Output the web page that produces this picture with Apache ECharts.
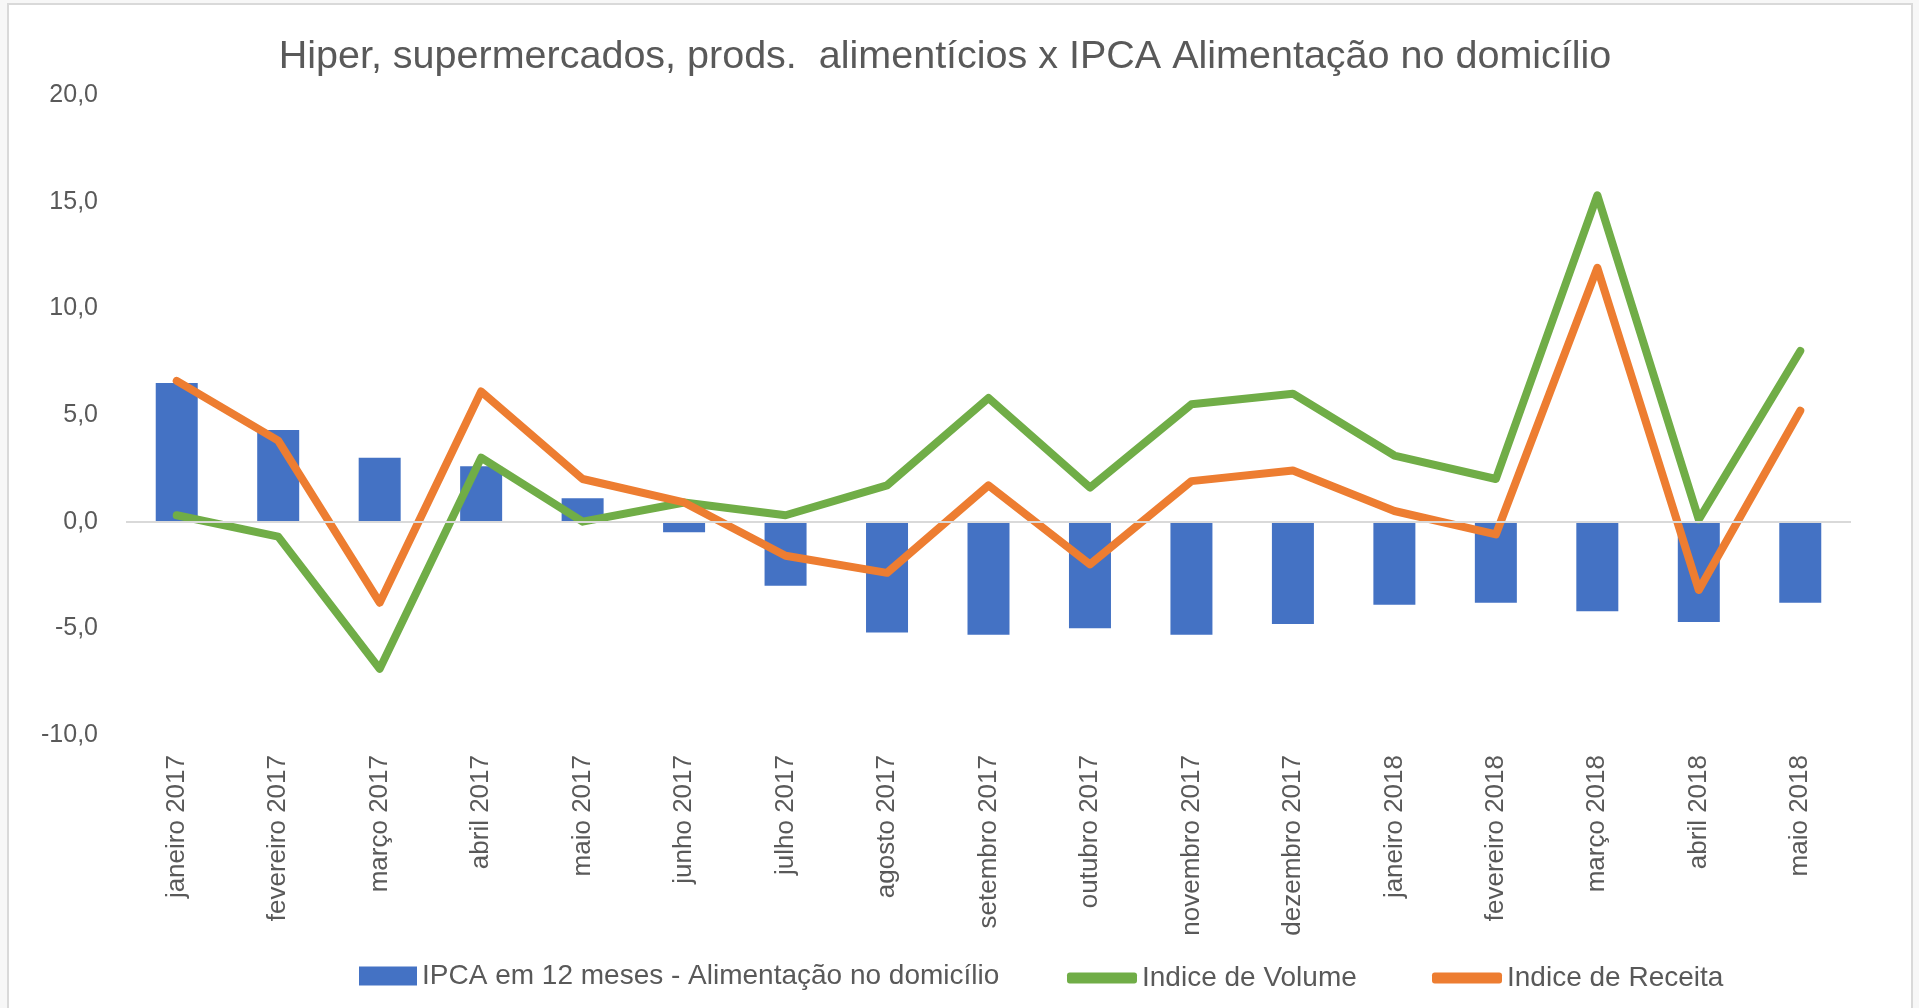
<!DOCTYPE html>
<html>
<head>
<meta charset="utf-8">
<script src="https://cdn.jsdelivr.net/npm/echarts@6/dist/echarts.min.js"></script>
<style>
  html, body { margin: 0; padding: 0; background: #f7f7f7; }
  #chart { width: 1919px; height: 1008px; }
</style>
</head>
<body>
<div id="chart"></div>
<script>
"use strict";

var months = [
  "janeiro 2017", "fevereiro 2017", "março 2017", "abril 2017", "maio 2017",
  "junho 2017", "julho 2017", "agosto 2017", "setembro 2017", "outubro 2017",
  "novembro 2017", "dezembro 2017", "janeiro 2018", "fevereiro 2018",
  "março 2018", "abril 2018", "maio 2018"
];
var ipca = [6.5, 4.3, 3.0, 2.6, 1.1, -0.5, -3.0, -5.2, -5.3, -5.0, -5.3, -4.8, -3.9, -3.8, -4.2, -4.7, -3.8];
var volume = [0.3, -0.7, -6.9, 3.0, 0.0, 0.9, 0.3, 1.7, 5.8, 1.6, 5.5, 6.0, 3.1, 2.0, 15.3, 0.1, 8.0];
var receita = [6.6, 3.8, -3.8, 6.1, 2.0, 0.9, -1.6, -2.4, 1.7, -2.0, 1.9, 2.4, 0.5, -0.6, 11.9, -3.2, 5.2];

var names = ["IPCA em 12 meses - Alimentação no domicílio", "Indice de Volume", "Indice de Receita"];
var textColor = "#595959";
var font = "'Liberation Sans', Arial, sans-serif";

var chart = echarts.init(document.getElementById("chart"));

chart.setOption({
  backgroundColor: "#f7f7f7",
  animation: false,
  graphic: [
    {
      type: "rect",
      silent: true,
      z: -10,
      shape: { x: 8, y: 4, width: 1904, height: 1030 },
      style: { fill: "#ffffff", stroke: "#d9d9d9", lineWidth: 2 },
    },
  ],
  title: {
    text: "Hiper, supermercados, prods.  alimentícios x IPCA Alimentação no domicílio",
    left: 940,
    top: 32,
    textAlign: "center",
    textStyle: { color: textColor, fontSize: 39.5, fontWeight: "normal", fontFamily: font },
  },
  legend: [
    {
      data: [names[0]],
      left: 354,
      top: 957,
      itemWidth: 58,
      itemHeight: 19,
      icon: "rect",
      textStyle: { color: textColor, fontSize: 28, fontFamily: font },
    },
    {
      data: [names[1]],
      left: 1062,
      top: 959,
      itemWidth: 70,
      itemHeight: 11,
      icon: "roundRect",
      textStyle: { color: textColor, fontSize: 28, fontFamily: font },
    },
    {
      data: [names[2]],
      left: 1427,
      top: 959,
      itemWidth: 70,
      itemHeight: 11,
      icon: "roundRect",
      textStyle: { color: textColor, fontSize: 28, fontFamily: font },
    },
  ],
  grid: { left: 126, right: 68, top: 95, height: 640 },
  xAxis: {
    type: "category",
    data: months,
    axisLine: { show: false, onZero: false },
    axisTick: { show: false },
    axisLabel: {
      rotate: 90,
      margin: 20,
      interval: 0,
      color: textColor,
      fontSize: 26,
      fontFamily: font,
    },
  },
  yAxis: {
    type: "value",
    min: -10,
    max: 20,
    interval: 5,
    splitLine: { show: false },
    axisLine: { show: false },
    axisTick: { show: false },
    axisLabel: {
      margin: 28,
      color: textColor,
      fontSize: 25,
      fontFamily: font,
      formatter: function (v) {
        return v.toFixed(1).replace(".", ",");
      },
    },
  },
  series: [
    {
      name: names[0],
      type: "bar",
      barWidth: 42,
      data: ipca,
      itemStyle: { color: "#4472C4" },
      markLine: {
        silent: true,
        symbol: "none",
        label: { show: false },
        lineStyle: { color: "#d9d9d9", width: 2, type: "solid" },
        data: [{ yAxis: 0 }],
      },
      z: 1,
    },
    {
      name: names[1],
      type: "line",
      data: volume,
      symbol: "none",
      itemStyle: { color: "#70AD47" },
      lineStyle: { color: "#70AD47", width: 8, cap: "round", join: "round" },
      z: 3,
    },
    {
      name: names[2],
      type: "line",
      data: receita,
      symbol: "none",
      itemStyle: { color: "#ED7D31" },
      lineStyle: { color: "#ED7D31", width: 8, cap: "round", join: "round" },
      z: 4,
    },
  ],
});
</script>
</body>
</html>
